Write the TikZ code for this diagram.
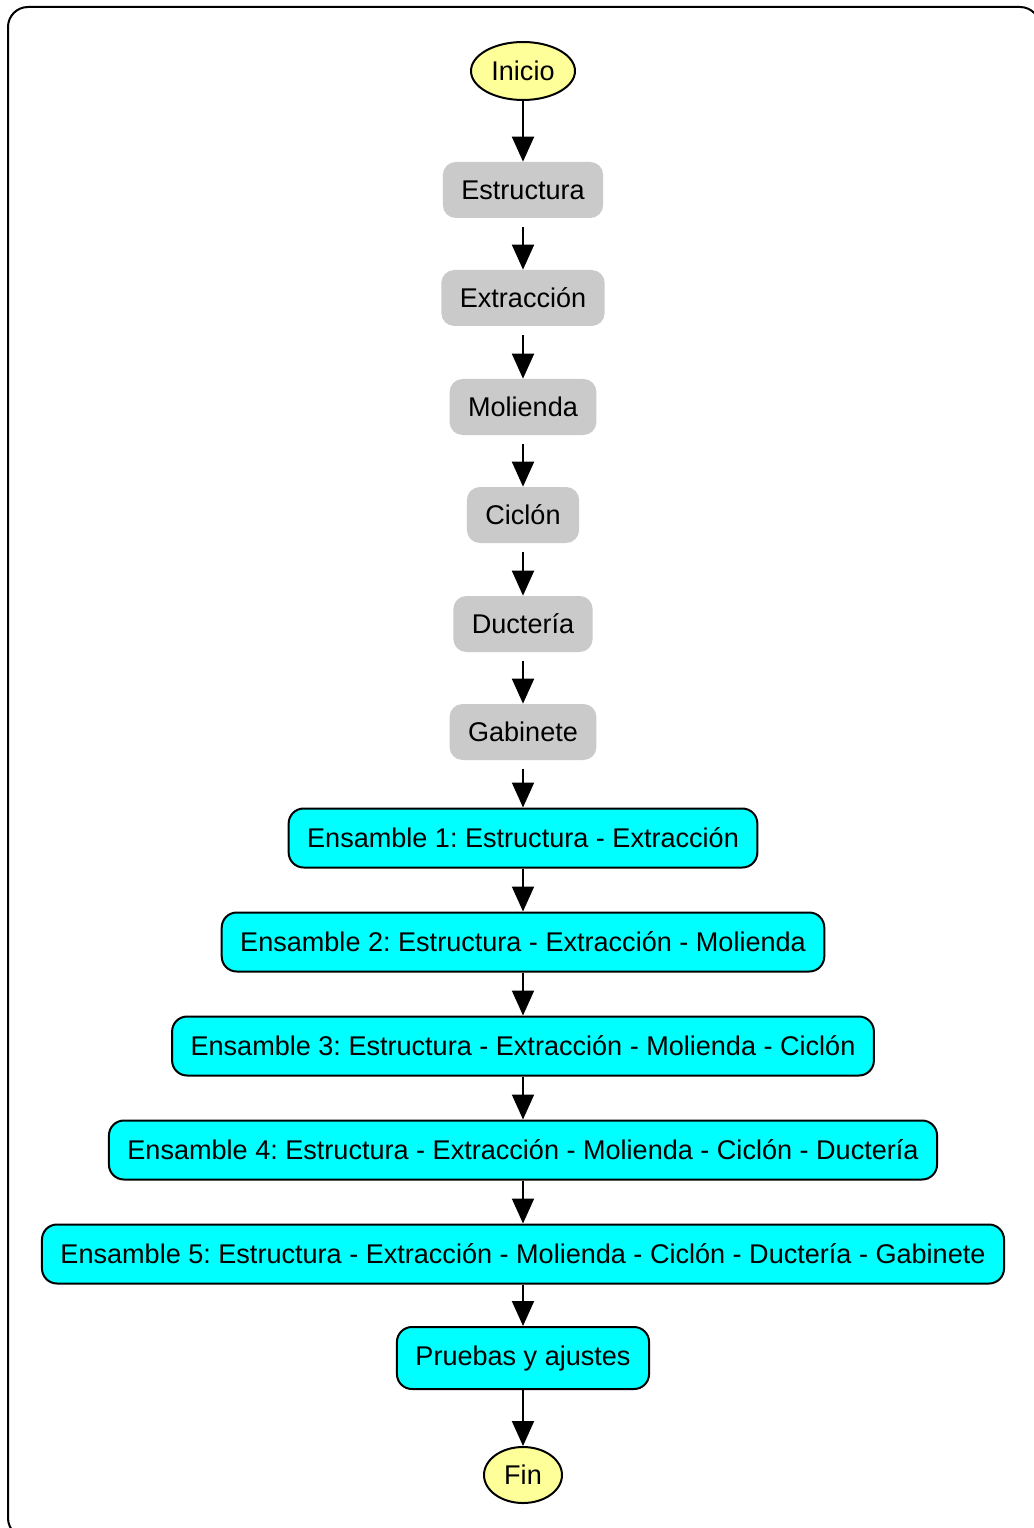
\documentclass[tikz,border=0pt]{standalone}
\usepackage{fontspec}
\setmainfont{Liberation Sans}
\usepackage{xcolor}
\usepackage{tikz}
\usetikzlibrary{shapes.geometric,arrows.meta}
\frenchspacing
\definecolor{termfill}{HTML}{FFFF99}
\definecolor{partgray}{HTML}{CACACA}
\definecolor{asmcyan}{HTML}{00FFFF}
\tikzset{
  frame/.style={draw=black, line width=0.4mm, rounded corners=4mm},
  term/.style={ellipse, draw=black, line width=0.4mm, fill=termfill, inner sep=0pt},
  part/.style={rectangle, fill=partgray, rounded corners=2.6mm, minimum height=11.2mm, inner xsep=3.7mm},
  asm/.style={rectangle, draw=black, line width=0.4mm, fill=asmcyan, rounded corners=3mm, minimum height=11.8mm, inner xsep=3.7mm},
  flow/.style={-{Triangle[width=4.4mm,length=5mm]}, line width=0.4mm},
  fromgray/.style={flow, shorten <=1.8mm},
  lab/.style={font=\fontsize{15.4}{18}\selectfont},
}
\begin{document}
\begin{tikzpicture}[x=0.2mm,y=-0.2mm]
  \useasboundingbox (0,0) rectangle (1033,1528);
  \draw[frame] (8,7) rectangle (1040,1538);

  % inicio y piezas
  \node[term,lab,minimum width=20.8mm,minimum height=11.6mm] (ini) at (523,71) {Inicio};
  \node[part,lab] (est) at (523,190) {Estructura};
  \node[part,lab] (ext) at (523,298) {Extracción};
  \node[part,lab] (mol) at (523,407) {Molienda};
  \node[part,lab] (cic) at (523,515) {Ciclón};
  \node[part,lab] (duc) at (523,624) {Ductería};
  \node[part,lab] (gab) at (523,732) {Gabinete};

  % ensambles
  \node[asm,lab] (en1) at (523,838) {Ensamble 1: Estructura - Extracción};
  \node[asm,lab] (en2) at (523,942) {Ensamble 2: Estructura - Extracción - Molienda};
  \node[asm,lab] (en3) at (523,1046) {Ensamble 3: Estructura - Extracción - Molienda - Ciclón};
  \node[asm,lab] (en4) at (523,1150) {Ensamble 4: Estructura - Extracción - Molienda - Ciclón - Ductería};
  \node[asm,lab] (en5) at (523,1254) {Ensamble 5: Estructura - Extracción - Molienda - Ciclón - Ductería - Gabinete};
  \node[asm,lab,minimum height=12.4mm] (pru) at (523,1358) {Pruebas y ajustes};
  \node[term,lab,minimum width=15.6mm,minimum height=11.2mm] (fin) at (523,1475) {Fin};

  \draw[flow] (ini) -- (est);
  \draw[fromgray] (est) -- (ext);
  \draw[fromgray] (ext) -- (mol);
  \draw[fromgray] (mol) -- (cic);
  \draw[fromgray] (cic) -- (duc);
  \draw[fromgray] (duc) -- (gab);
  \draw[fromgray] (gab) -- (en1);
  \draw[flow] (en1) -- (en2);
  \draw[flow] (en2) -- (en3);
  \draw[flow] (en3) -- (en4);
  \draw[flow] (en4) -- (en5);
  \draw[flow] (en5) -- (pru);
  \draw[flow] (pru) -- (fin);
\end{tikzpicture}
\end{document}
